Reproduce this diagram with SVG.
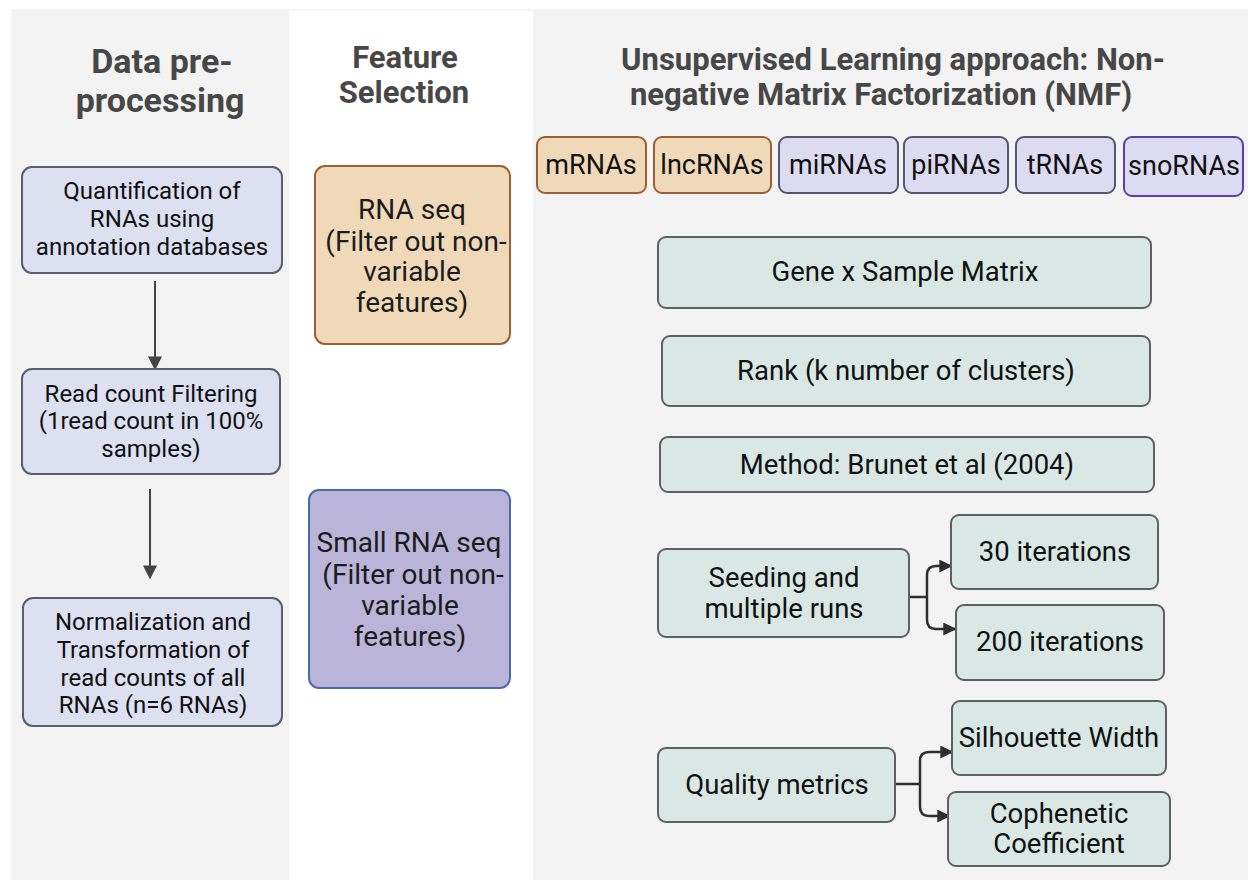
<svg xmlns="http://www.w3.org/2000/svg" width="1248" height="880" viewBox="0 0 1248 880">
<style>
.t{font-family:Roboto,"Liberation Sans",sans-serif;fill:#111;text-anchor:middle}
.b{font-size:24px}
.m{font-size:28px;fill:#1c1c1c}
.g{font-size:27.5px}
.ch{font-size:27px}
.h{font-family:Roboto,"Liberation Sans",sans-serif;font-weight:bold;fill:#474747;text-anchor:middle}
.blue{fill:#dde0f0;stroke:#5a5d6e;stroke-width:2}
.tan{fill:#f0d9b9;stroke:#9c5f35;stroke-width:2}
.lav{fill:#dddbf2;stroke:#55566a;stroke-width:2}
.grn{fill:#d9e8e4;stroke:#5d615f;stroke-width:2}
.c{fill:none;stroke:#2e2e2e;stroke-width:2.5}
.v{fill:none;stroke:#444;stroke-width:2}
</style>
<defs>
<marker id="ah" viewBox="0 0 10 10" refX="9" refY="5" markerWidth="13" markerHeight="13" markerUnits="userSpaceOnUse" orient="auto">
<path d="M0,0 L10,5 L0,10 z" fill="#2e2e2e"/>
</marker>
<marker id="av" viewBox="0 0 10 10" refX="9" refY="5" markerWidth="14" markerHeight="14" markerUnits="userSpaceOnUse" orient="auto">
<path d="M0,0 L10,5 L0,10 z" fill="#444"/>
</marker>
</defs>
<rect width="1248" height="880" fill="#ffffff"/>
<g id="panels">
<rect x="11" y="10" width="278" height="870" fill="#f3f3f3"/>
<rect x="533" y="10" width="715" height="870" fill="#f3f3f3"/>
<line x1="11" y1="10" x2="1248" y2="10" stroke="#ebebeb" stroke-width="1"/>
</g>
<g id="titles">
<text class="h" font-size="34" x="162" y="73">Data pre-</text>
<text class="h" font-size="34" x="160" y="112">processing</text>
<text class="h" font-size="31" x="405" y="68">Feature</text>
<text class="h" font-size="31" x="404" y="103">Selection</text>
<text class="h" font-size="31" x="893" y="70">Unsupervised Learning approach: Non-</text>
<text class="h" font-size="31" x="881" y="105">negative Matrix Factorization (NMF)</text>
</g>
<g id="connectors">
<line class="v" x1="155" y1="281" x2="155" y2="369" marker-end="url(#av)"/>
<line class="v" x1="150" y1="489" x2="150" y2="578" marker-end="url(#av)"/>
<path class="c" d="M910,597 H927"/>
<path class="c" d="M927,597 V575 Q927,566 936,566 H951" marker-end="url(#ah)"/>
<path class="c" d="M927,597 V620 Q927,629 936,629 H955" marker-end="url(#ah)"/>
<path class="c" d="M896,784 H920"/>
<path class="c" d="M920,784 V761 Q920,752 929,752 H952" marker-end="url(#ah)"/>
<path class="c" d="M920,784 V807 Q920,816 929,816 H949" marker-end="url(#ah)"/>
</g>
<g id="quant">
<rect class="blue" x="22" y="167" width="260" height="106" rx="10"/>
<text class="t b" x="152" y="199">Quantification of</text>
<text class="t b" x="152" y="227">RNAs using</text>
<text class="t b" x="152" y="255">annotation databases</text>
</g>
<g id="readcount">
<rect class="blue" x="22" y="369" width="258" height="105" rx="10"/>
<text class="t b" x="151" y="402">Read count Filtering</text>
<text class="t b" x="151" y="429">(1read count in 100%</text>
<text class="t b" x="151" y="457">samples)</text>
</g>
<g id="norm">
<rect class="blue" x="23" y="598" width="259" height="128" rx="10"/>
<text class="t b" x="153" y="630">Normalization and</text>
<text class="t b" x="153" y="658">Transformation of</text>
<text class="t b" x="153" y="686">read counts of all</text>
<text class="t b" x="153" y="713">RNAs (n=6 RNAs)</text>
</g>
<g id="rnaseq">
<rect class="tan" x="315" y="166" width="195" height="178" rx="10"/>
<text class="t m" x="412" y="219">RNA seq</text>
<text class="t m" x="416" y="251">(Filter out non-</text>
<text class="t m" x="412" y="281">variable</text>
<text class="t m" x="412" y="312">features)</text>
</g>
<g id="smallrnaseq">
<rect x="309" y="490" width="201" height="198" rx="10" fill="#bab4d9" stroke="#4a68b0" stroke-width="2"/>
<text class="t m" x="409" y="552">Small RNA seq</text>
<text class="t m" x="413" y="584">(Filter out non-</text>
<text class="t m" x="410" y="615">variable</text>
<text class="t m" x="410" y="646">features)</text>
</g>
<g id="mrnas">
<rect class="tan" x="537" y="137" width="109" height="56" rx="8"/>
<text class="t ch" x="591" y="174">mRNAs</text>
</g>
<g id="lncrnas">
<rect class="tan" x="654" y="137" width="117" height="56" rx="8"/>
<text class="t ch" x="712" y="174">lncRNAs</text>
</g>
<g id="mirnas">
<rect class="lav" x="779" y="137" width="119" height="56" rx="8"/>
<text class="t ch" x="838" y="174">miRNAs</text>
</g>
<g id="pirnas">
<rect class="lav" x="904" y="137" width="104" height="56" rx="8"/>
<text class="t ch" x="956" y="174">piRNAs</text>
</g>
<g id="trnas">
<rect class="lav" x="1016" y="137" width="99" height="56" rx="8"/>
<text class="t ch" x="1065" y="174">tRNAs</text>
</g>
<g id="snornas">
<rect x="1124" y="137" width="119" height="59" rx="8" fill="#dddbf2" stroke="#5a40a8" stroke-width="2"/>
<text class="t ch" x="1184" y="175">snoRNAs</text>
</g>
<g id="gene">
<rect class="grn" x="658" y="237" width="493" height="71" rx="8"/>
<text class="t g" x="905" y="281">Gene x Sample Matrix</text>
</g>
<g id="rank">
<rect class="grn" x="662" y="336" width="488" height="70" rx="8"/>
<text class="t g" x="906" y="380">Rank (k number of clusters)</text>
</g>
<g id="method">
<rect class="grn" x="660" y="437" width="494" height="55" rx="8"/>
<text class="t g" x="907" y="474">Method: Brunet et al (2004)</text>
</g>
<g id="seeding">
<rect class="grn" x="658" y="549" width="251" height="88" rx="8"/>
<text class="t g" x="784" y="587">Seeding and</text>
<text class="t g" x="784" y="618">multiple runs</text>
</g>
<g id="iter30">
<rect class="grn" x="951" y="515" width="207" height="74" rx="8"/>
<text class="t g" x="1055" y="561">30 iterations</text>
</g>
<g id="iter200">
<rect class="grn" x="956" y="605" width="208" height="75" rx="8"/>
<text class="t g" x="1060" y="651">200 iterations</text>
</g>
<g id="quality">
<rect class="grn" x="658" y="748" width="237" height="74" rx="8"/>
<text class="t g" x="777" y="794">Quality metrics</text>
</g>
<g id="silhouette">
<rect class="grn" x="952" y="701" width="214" height="74" rx="8"/>
<text class="t g" x="1059" y="747">Silhouette Width</text>
</g>
<g id="cophenetic">
<rect class="grn" x="948" y="792" width="222" height="74" rx="8"/>
<text class="t g" x="1059" y="823">Cophenetic</text>
<text class="t g" x="1059" y="853">Coefficient</text>
</g>
</svg>
